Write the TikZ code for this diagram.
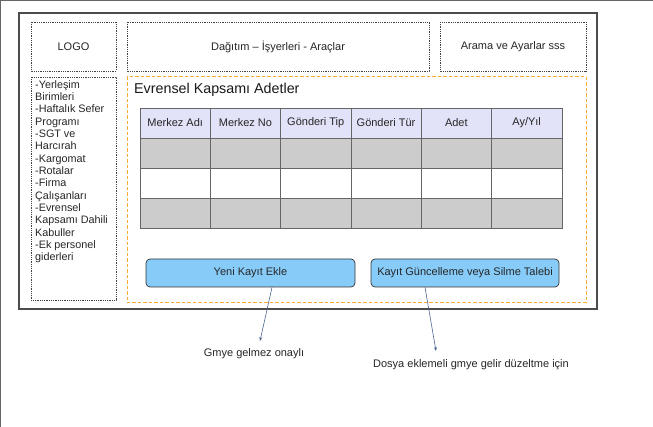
\documentclass[tikz,border=0pt]{standalone}
\usepackage{fontspec}
\setmainfont{Liberation Sans}
\usetikzlibrary{arrows.meta}
\begin{document}
\begin{tikzpicture}[x=1pt,y=-1pt,
  txt/.style={font=\fontsize{11}{13}\selectfont, text=black!85},
  dotbox/.style={draw=black!75, densely dotted, line width=0.8pt},
  hdr/.style={draw=black!60, fill=headfill, minimum width=70.3pt, minimum height=30pt, inner sep=0pt, txt},
  grey/.style={draw=black!60, fill=black!20, minimum width=70.3pt, minimum height=30pt, inner sep=0pt},
  white/.style={draw=black!60, fill=white, minimum width=70.3pt, minimum height=30pt, inner sep=0pt},
  btn/.style={draw=black!80, fill=btnfill, rounded corners=4pt, line width=0.7pt, txt},
  arr/.style={draw=arrcol, line width=0.6pt, -{Stealth[length=4pt,width=3pt]}}
]
\definecolor{headfill}{HTML}{E2E2F8}
\definecolor{btnfill}{HTML}{87CBF8}
\definecolor{arrcol}{HTML}{4A6690}
\definecolor{orng}{HTML}{F5AC30}
\useasboundingbox (0,0) rectangle (653,427);
\fill[white] (0,0) rectangle (653,427);
% outer frame
\draw[draw=black!70, line width=1.2pt] (19,13) rectangle (597,309);
% top boxes
\draw[dotbox] (31,22) rectangle (116,71);
\node[txt] (logo) at (73.5,46.5) {LOGO};
\draw[dotbox] (127,22) rectangle (429,71);
\node[txt] (dag) at (278,46.5) {Dağıtım – İşyerleri - Araçlar};
\draw[dotbox] (440,22) rectangle (586,71);
\node[txt] (arama) at (513,46.5) {Arama ve Ayarlar sss};
% left menu
\draw[dotbox] (31,77) rectangle (116,300);
\node[anchor=north west, align=left, inner sep=0pt, font=\fontsize{10.8}{12.35}\selectfont, text=black!85] (menu) at (35,80)
 {-Yerleşim\\Birimleri\\-Haftalık Sefer\\Programı\\-SGT ve\\Harcırah\\-Kargomat\\-Rotalar\\-Firma\\Çalışanları\\-Evrensel\\Kapsamı Dahili\\Kabuller\\-Ek personel\\giderleri};
% orange dashed area
\draw[draw=orng, line width=1pt, dash pattern=on 3.5pt off 2pt] (127,77) rectangle (586,303);
\node[anchor=west, inner sep=0pt, font=\fontsize{14.3}{16}\selectfont, text=black!90] (title) at (134,89.5) {Evrensel Kapsamı Adetler};
% table
\foreach \i/\t in {0/{Merkez Adı},1/{Merkez No},2/{Gönderi Tip},3/{Gönderi Tür},4/{Adet},5/{Ay/Yıl}}{
  \node[hdr] (h\i) at ({140+70.3*\i+35.15},123) {\t};
  \node[grey] (r1c\i) at ({140+70.3*\i+35.15},153) {};
  \node[white] (r2c\i) at ({140+70.3*\i+35.15},183) {};
  \node[grey] (r3c\i) at ({140+70.3*\i+35.15},213) {};
}
% buttons
\node[btn, minimum width=209pt, minimum height=28pt] (yeni) at (250.5,273) {Yeni Kayıt Ekle};
\node[btn, minimum width=188pt, minimum height=28pt] (kayit) at (465,273) {Kayıt Güncelleme veya Silme Talebi};
% notes
\node[txt] (gmye) at (254,354) {Gmye gelmez onaylı};
\node[txt] (dosya) at (471,365) {Dosya eklemeli gmye gelir düzeltme için};
\coordinate (a1) at (260,341);
\coordinate (a2) at (436,351);
\draw[arr] (yeni.south -| 272,0) -- (a1);
\draw[arr] (kayit.south -| 425,0) -- (a2);
\end{tikzpicture}
\end{document}
